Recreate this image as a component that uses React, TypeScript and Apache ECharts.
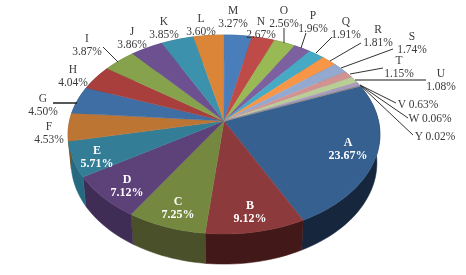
import React, { useEffect, useRef } from "react";
import * as echarts from "echarts";

const names = ["A","B","C","D","E","F","G","H","I","J","K","L","M","N","O","P","Q","R","S","T","U","V","W","Y"];
const values = [23.67,9.12,7.25,7.12,5.71,4.53,4.50,4.04,3.87,3.86,3.85,3.60,3.27,2.67,2.56,1.96,1.91,1.81,1.74,1.15,1.08,0.63,0.06,0.02];
const topColors = ["#35608f","#8c3a3c","#74893f","#5d4279","#347d96","#bc7533","#3f6ea5","#a83f3d","#86a24d","#6c5090","#3c92ad","#db8538","#4a7ebb","#be4b48","#98b954","#7d60a0","#46aac5","#f79646","#93a9cf","#d19392","#b9cd96","#a99bbd","#8a8a8a","#8a8a8a"];
const wallColors = ["#15263d","#431818","#49502a","#3f2d55","#256a80","#7f4f22","#2a4a70","#702a28","#5a6d33","#483660","#286274","#935924","#325479","#7f3230","#667b38","#54406b","#2f7284","#a5642f","#62718a","#8c6261","#7c8964","#71677e","#5c5c5c","#5c5c5c"];

const labelCenters = [[348,148],[250,211],[178,207],[127,185],[97,156],[49,132],[43,104],[73,75],[87,44],[132,37],[164,27],[201,24],[233,16],[261,27],[284,16],[313,21],[346,27],[378,35],[412,42],[399,66],[441,79],[418,104],[430,118],[435,136]];
const leaders = [
  [[103,47],[118,62],"#333",1],[[53,103],[77,103],"#111",1.4],[[284,28],[284,43],"#333",1],
  [[306,33],[301,48],"#333",1],[[332,37],[316,53],"#333",1],[[361,43],[330,61],"#333",1],
  [[393,49],[341,68],"#333",1],[[383,68],[350,74],"#333",1],[[426,80],[355,80],"#666",1.4],
  [[396,103],[360,85],"#333",1],[[408,118],[360,85],"#333",1],[[413,135],[360,85],"#333",1],
] as const;

const START_DEG = 68;
const topFace = { cx: 224, cy: 121, b: 154.5, a: 97.7, k: -0.1357 };
const baseFace = { cx: 224, cy: 149, b: 151.5, a: 99.5, k: -0.1357 };
const total = values.reduce((s, v) => s + v, 0);

function project(f: typeof topFace, deg: number): number[] {
  const t = (deg * Math.PI) / 180;
  const u = Math.sin(t), v = -Math.cos(t);
  const d = 1 + f.k * v;
  return [f.cx + (f.b * u) / d, f.cy + (f.a * v) / d];
}
function arc(f: typeof topFace, a0: number, a1: number): number[][] {
  const n = Math.max(2, Math.ceil((a1 - a0) / 2));
  const pts: number[][] = [];
  for (let i = 0; i <= n; i++) pts.push(project(f, a0 + ((a1 - a0) * i) / n));
  return pts;
}
const starts: number[] = [];
values.reduce((acc, v, i) => { starts[i] = acc; return acc + v; }, 0);
const seriesData = values.map((v, i) => [START_DEG + (starts[i] / total) * 360, START_DEG + ((starts[i] + v) / total) * 360]);

export default function App() {
  const ref = useRef<HTMLDivElement>(null);
  useEffect(() => {
    const chart = echarts.init(ref.current!, undefined, { renderer: "svg" });
    chart.setOption({
      animation: false,
      backgroundColor: "#ffffff",
      series: [
        {
          type: "custom", coordinateSystem: "none", silent: true, z: 1, data: seriesData,
          renderItem: (p: any, api: any) => {
            const a0 = api.value(0), a1 = api.value(1);
            const pts = [...arc(topFace, a0, a1), ...arc(baseFace, a0, a1).reverse()];
            return { type: "polygon", shape: { points: pts }, style: { fill: wallColors[p.dataIndex], stroke: wallColors[p.dataIndex], lineWidth: 0.5 } };
          },
        },
        {
          type: "custom", coordinateSystem: "none", silent: true, z: 2, data: seriesData,
          renderItem: (p: any, api: any) => {
            const a0 = api.value(0), a1 = api.value(1);
            const pts = [[topFace.cx, topFace.cy], ...arc(topFace, a0, a1)];
            return { type: "polygon", shape: { points: pts }, style: { fill: topColors[p.dataIndex], stroke: topColors[p.dataIndex], lineWidth: 0.4 } };
          },
        },
      ],
      graphic: [
        ...leaders.map(([a, b, c, w]) => ({ type: "line", z: 5, shape: { x1: a[0], y1: a[1], x2: b[0], y2: b[1] }, style: { stroke: c, lineWidth: w } })),
        ...names.map((n, i) => {
          const inner = i < 5;
          const oneLine = i >= 21;
          return {
            type: "text", z: 6, x: labelCenters[i][0], y: labelCenters[i][1],
            style: {
              text: `${n}${oneLine ? " " : "\n"}${values[i].toFixed(2)}%`,
              align: "center", verticalAlign: "middle", lineHeight: 13,
              font: `${inner ? "bold " : ""}${inner ? 12 : 11.5}px "Liberation Serif"`,
              fill: inner ? "#ffffff" : "#3a3a3a",
            },
          };
        }),
      ],
    });
    return () => chart.dispose();
  }, []);
  return <div ref={ref} style={{ position: "fixed", left: 0, top: 0, width: 466, height: 275, filter: "blur(0.35px)" }} />;
}
